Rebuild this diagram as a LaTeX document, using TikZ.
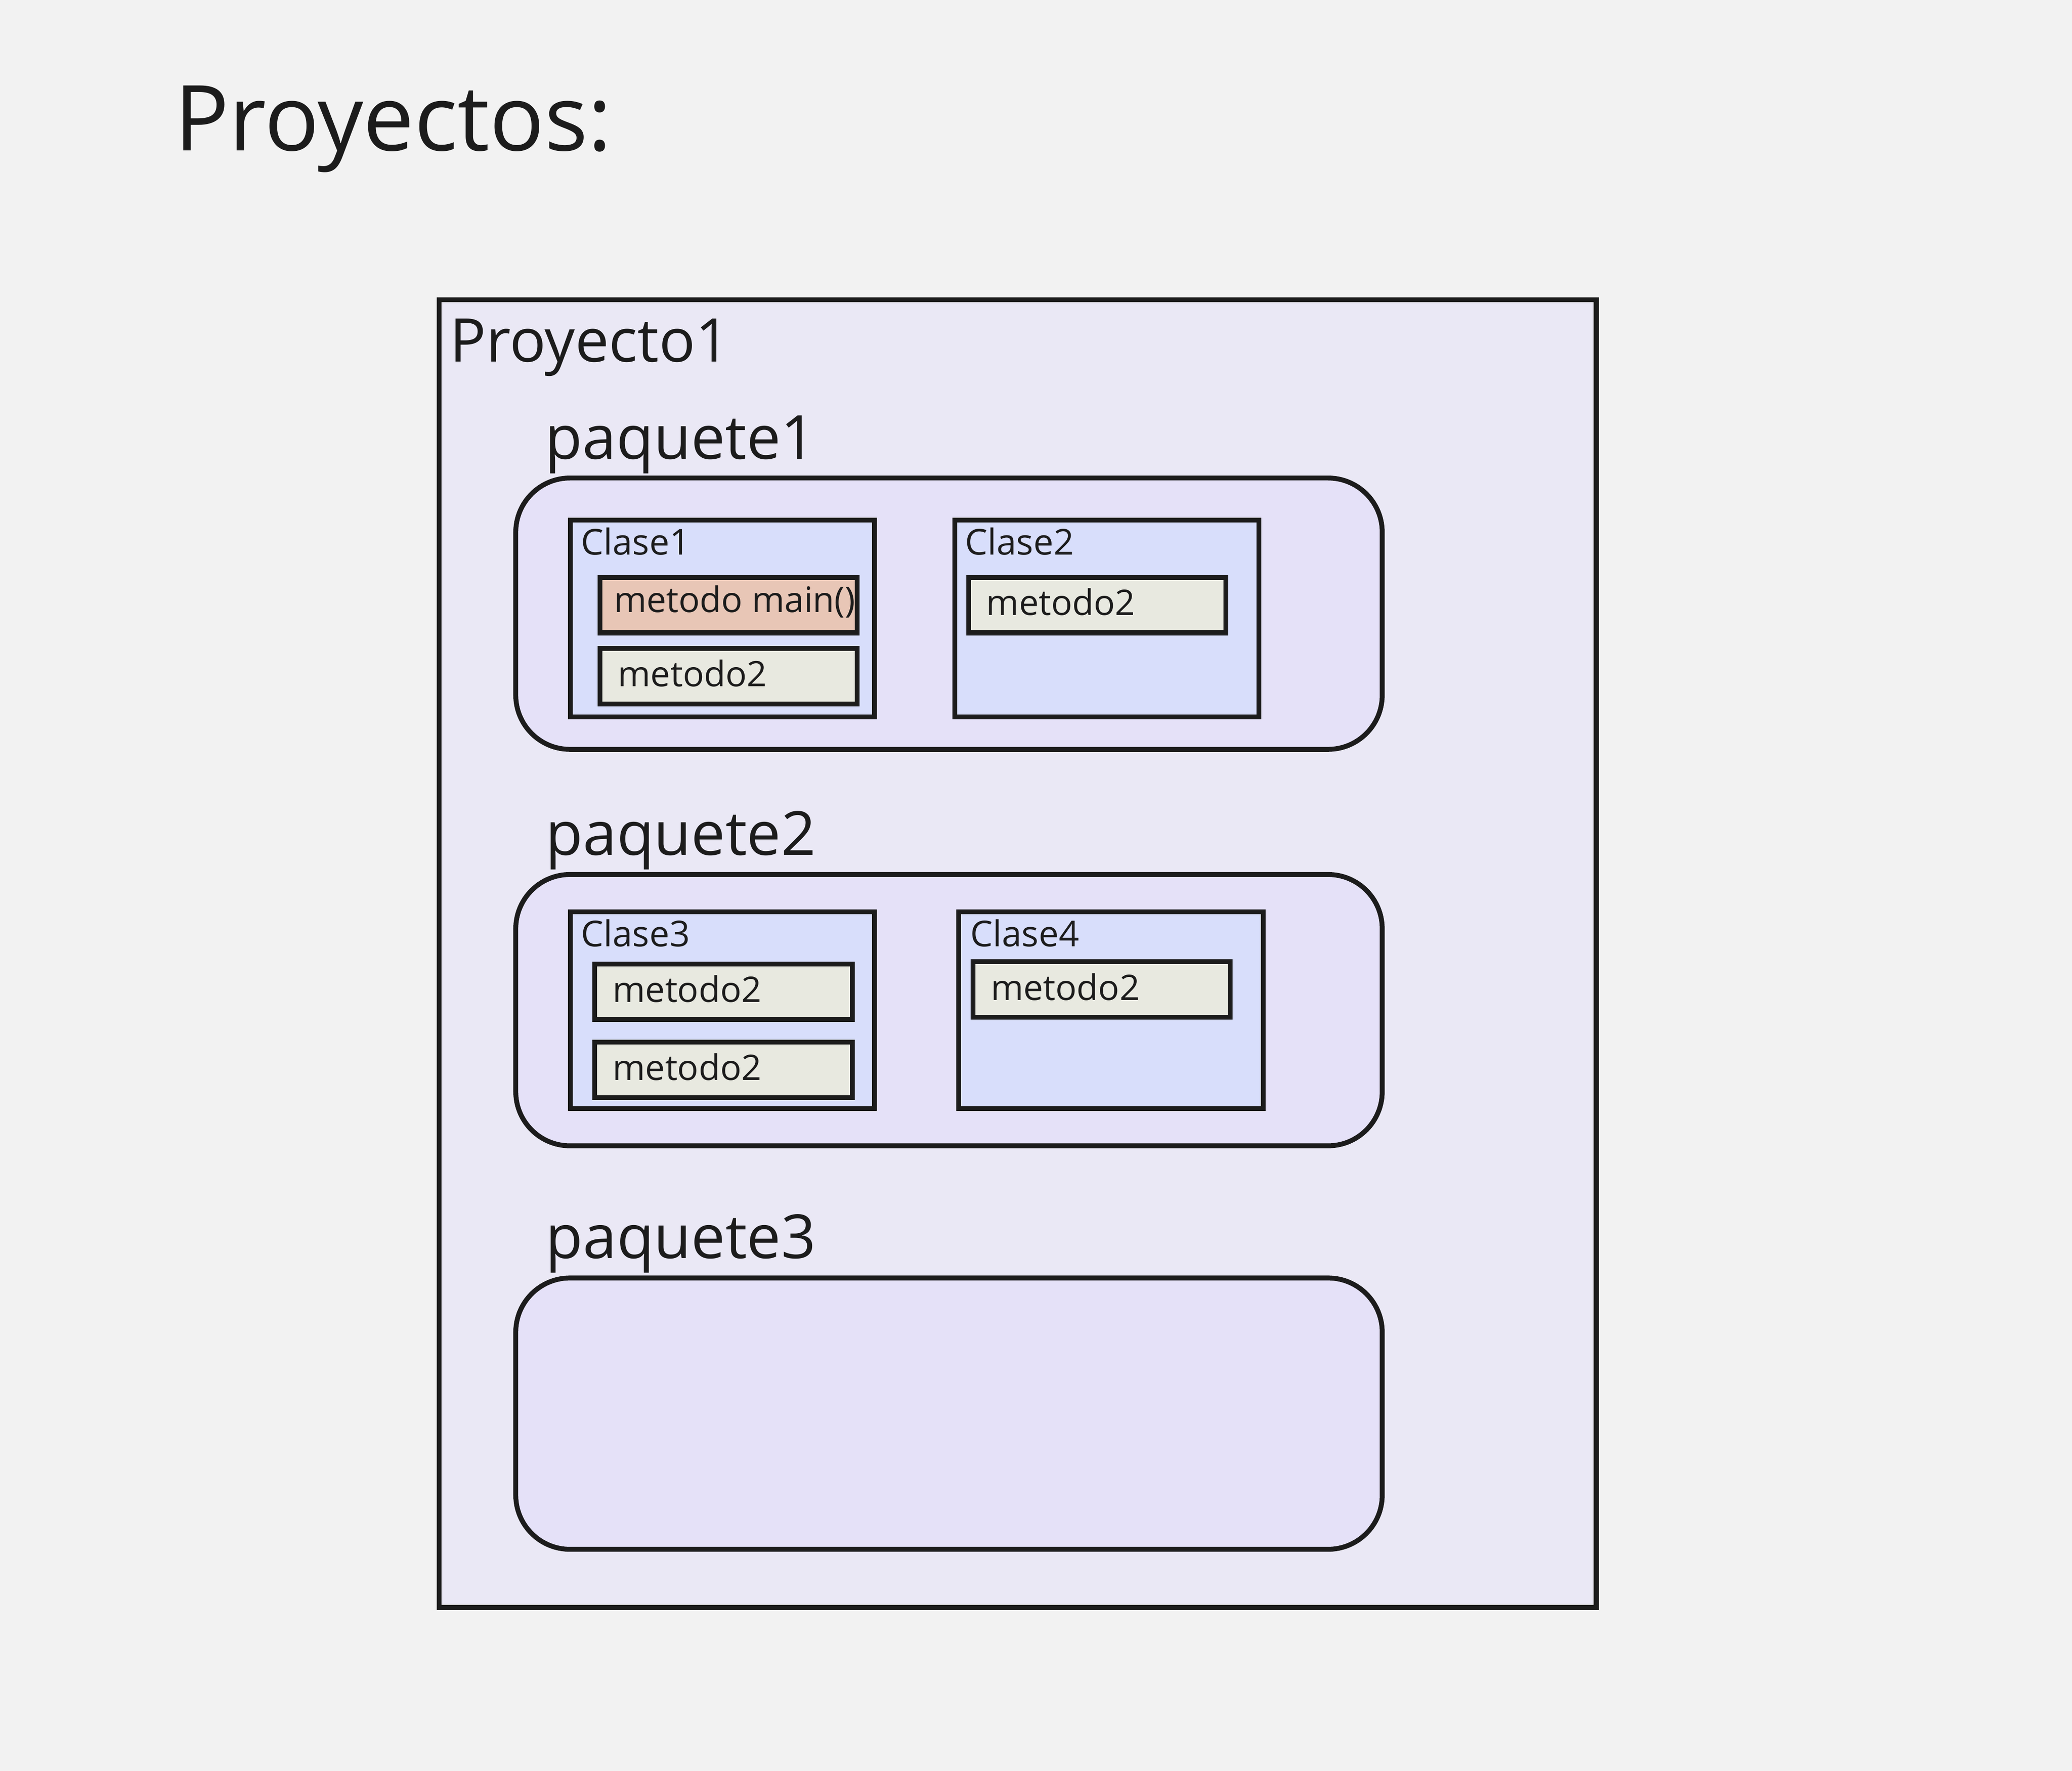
\documentclass[tikz,border=0pt]{standalone}
\usepackage{fontspec}
\setmainfont{Open Sans}
\definecolor{bgc}{HTML}{F2F2F2}
\definecolor{inkc}{HTML}{1C1C1C}
\definecolor{projc}{HTML}{EAE8F5}
\definecolor{pkgc}{HTML}{E5E1F8}
\definecolor{clsc}{HTML}{D8DEFB}
\definecolor{mthc}{HTML}{E8E9E0}
\definecolor{mainc}{HTML}{E8C6B6}
\tikzset{
  frame/.style={draw=inkc, line width=3.7pt, inner sep=0pt, outer sep=0pt},
  projbox/.style={frame, fill=projc, minimum width=875.8pt, minimum height=989.5pt},
  pkgbox/.style={frame, fill=pkgc, rounded corners=41pt, minimum width=655.7pt, minimum height=205.3pt},
  clsbox/.style={frame, fill=clsc, minimum width=230.2pt, minimum height=148.9pt},
  mthbox/.style={frame, fill=mthc, minimum width=194.7pt, minimum height=42pt},
  mainbox/.style={mthbox, fill=mainc},
  txt/.style={inner sep=0pt, outer sep=0pt, anchor=base west, text=inkc},
  titletxt/.style={txt, font=\fontsize{68.8}{80}\selectfont},
  bigtxt/.style={txt, font=\fontsize{45.6}{54}\selectfont},
  pkgtxt/.style={txt, font=\fontsize{46}{55}\selectfont},
  clstxt/.style={txt, font=\fontsize{27}{32}\selectfont},
  mthtxt/.style={txt, font=\fontsize{26.6}{31}\selectfont},
}
\begin{document}
\begin{tikzpicture}[x=1pt, y=-1pt]
\fill[bgc] (0,0) rectangle (1568,1340);
\useasboundingbox (0,0) rectangle (1568,1340);

\node[titletxt] (title) at (132,113.8) {Proyectos:};

\node[projbox] (proj) at (770.1,721.55) {};
\node[bigtxt] (projlbl) at (340.5,273.6) {Proyecto1};

% paquete1
\node[pkgtxt] (p1lbl) at (412.7,347.3) {paquete1};
\node[pkgbox] (p1) at (718.15,464.35) {};
\node[clsbox] (c1) at (546.7,467.95) {};
\node[clstxt] (c1lbl) at (439.8,419.8) {Clase1};
\node[mainbox] (m1a) at (551.35,457.9) {};
\node[mthtxt] (m1albl) at (464.6,463.3) {metodo main()};
\node[mthbox] (m1b) at (551.35,511.65) {};
\node[mthtxt] (m1blbl) at (467.7,519.3) {metodo2};
\node[clsbox] (c2) at (837.6,467.95) {};
\node[clstxt] (c2lbl) at (730.4,419.8) {Clase2};
\node[mthbox] (m2a) at (830.35,457.9) {};
\node[mthtxt] (m2albl) at (746.4,465.6) {metodo2};

% paquete2
\node[pkgtxt] (p2lbl) at (413,647.1) {paquete2};
\node[pkgbox] (p2) at (718.15,764.35) {};
\node[clsbox] (c3) at (546.7,764.35) {};
\node[clstxt] (c3lbl) at (439.8,716.4) {Clase3};
\node[mthbox] (m3a) at (547.55,750.55) {};
\node[mthtxt] (m3albl) at (463.7,758.4) {metodo2};
\node[mthbox] (m3b) at (547.55,809.45) {};
\node[mthtxt] (m3blbl) at (463.7,817.4) {metodo2};
\node[clsbox, minimum width=230.5pt] (c4) at (840.75,764.35) {};
\node[clstxt] (c4lbl) at (734.4,716.4) {Clase4};
\node[mthbox] (m4a) at (833.65,748.75) {};
\node[mthtxt] (m4albl) at (749.8,756.7) {metodo2};

% paquete3
\node[pkgtxt] (p3lbl) at (413,952.2) {paquete3};
\node[pkgbox] (p3) at (718.15,1069.65) {};
\end{tikzpicture}
\end{document}
